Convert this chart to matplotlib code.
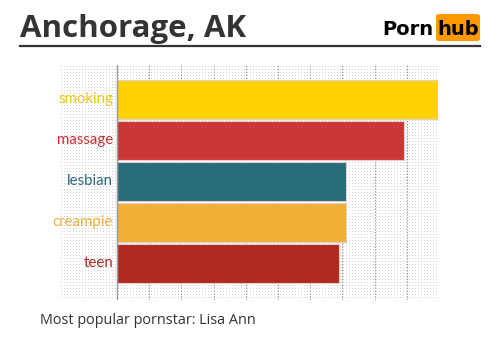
import numpy as np
import matplotlib
matplotlib.use("Agg")
from matplotlib import pyplot as plt
from matplotlib.patches import FancyBboxPatch

# data
categories = ["smoking", "massage", "lesbian", "creampie", "teen"]
values = [10.0, 8.9, 7.1, 7.1, 6.9]
bar_colors = ["#ffd200", "#cc3636", "#286b7a", "#f0b038", "#b02a20"]
label_colors = ["#f5c518", "#c83232", "#2a6a80", "#f0b040", "#b02a20"]
city = "Anchorage, AK"
pornstar = "Lisa Ann"

W, H = 500, 344
fig = plt.figure(figsize=(W / 100, H / 100), dpi=100)


def px_axes(x0, y0, x1, y1):
    # axes from pixel box (top-left origin)
    return fig.add_axes([x0 / W, 1 - y1 / H, (x1 - x0) / W, (y1 - y0) / H])


# dotted background texture, one pixel per dot
bw, bh = 378, 235
tex = np.ones((bh, bw, 3))
tex[1::3, 1::3] = 0.82
bg = px_axes(60, 65, 60 + bw, 65 + bh)
bg.imshow(tex, interpolation="nearest", aspect="auto")
bg.axis("off")

# main bar axes
ax = px_axes(60, 65, 438, 300)
ax.patch.set_alpha(0)
unit = 32.2
ax.set_xlim(-57 / unit, 321 / unit)
ypos = np.arange(len(categories))
ax.set_ylim(4.89, -0.84)

for x in range(1, 10):
    ax.axvline(x, color="#9a9a9a", lw=0.75, ls=(0, (1.4, 1.4)), zorder=1)
ax.axvline(0, color="#999999", lw=1.0, zorder=3)

ax.barh(ypos, values, height=0.95, color=bar_colors, edgecolor="#e2cccc",
        linewidth=0.8, zorder=2)

for y, lab, c in zip(ypos, categories, label_colors):
    ax.text(-0.12, y, lab, ha="right", va="center", color=c, fontsize=10.8,
            family="Lato")

ax.axis("off")

# header
fig.text(20 / W, 1 - 37 / H, city, fontsize=22.5, fontweight="bold",
         color="#333333", family="Open Sans", va="baseline", ha="left")
fig.add_artist(plt.Line2D([20 / W, 480 / W], [1 - 46 / H, 1 - 46 / H],
                          color="#333333", lw=1.6))

# logo
fig.text(433 / W, 1 - 35 / H, "Porn", fontsize=14, fontweight="bold",
         color="black", family="DejaVu Sans", ha="right", va="baseline")
box = FancyBboxPatch((436 / W, 1 - 41 / H), 44 / W, 27 / H,
                     boxstyle="round,pad=0,rounding_size=0.006",
                     transform=fig.transFigure, fc="#ff9900", ec="none")
fig.add_artist(box)
fig.text(458 / W, 1 - 35 / H, "hub", fontsize=14, fontweight="bold",
         color="black", family="DejaVu Sans", ha="center", va="baseline")

# footer
fig.text(40 / W, 1 - 321 / H, "Most popular pornstar: " + pornstar,
         fontsize=10.4, color="#333333", family="Open Sans", va="center",
         ha="left")

fig.savefig("out.png", dpi=100)
